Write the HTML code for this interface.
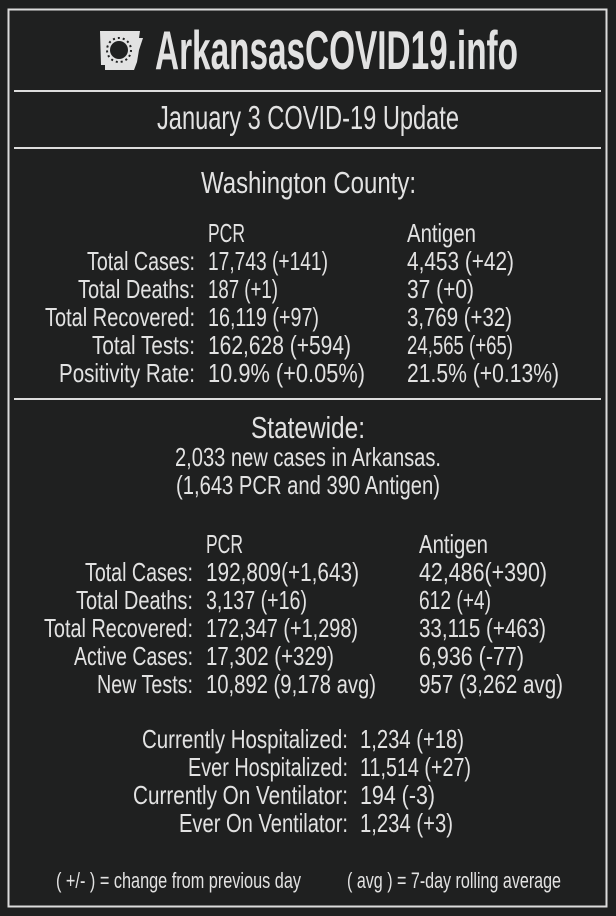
<!DOCTYPE html>
<html><head><meta charset="utf-8"><style>
html,body{margin:0;padding:0;background:#1f2020;}
svg{display:block}
text{font-family:"Liberation Sans Narrow","Liberation Sans",sans-serif;fill:#e2e2e2;}
</style></head><body>
<svg width="616" height="916" viewBox="0 0 616 916">
<rect x="0" y="0" width="616" height="916" fill="#1f2020"/>
<rect x="8.5" y="9.5" width="598" height="897" fill="none" stroke="#dcdcdc" stroke-width="2"/>
<line x1="14" y1="91" x2="601" y2="91" stroke="#dcdcdc" stroke-width="2"/>
<line x1="14" y1="148" x2="601" y2="148" stroke="#dcdcdc" stroke-width="2"/>
<line x1="14" y1="399" x2="601" y2="399" stroke="#dcdcdc" stroke-width="2"/>

<g>
<path d="M100 31 L140 31 L139 38 L143 38 L139 50 L137 62 L134 70 L105 70 L105 65 L101 65 Z" fill="#e2e2e2"/>
<circle cx="119" cy="50" r="9" fill="#1f2020"/>
<circle cx="119" cy="50" r="12" fill="none" stroke="#1f2020" stroke-width="2" stroke-dasharray="2 3"/>
</g>
<text x="155" y="69" font-size="55" font-weight="bold" textLength="363" lengthAdjust="spacingAndGlyphs">ArkansasCOVID19.info</text>
<text x="157" y="129" font-size="33" textLength="302" lengthAdjust="spacingAndGlyphs">January 3 COVID-19 Update</text>

<text x="201" y="193" font-size="31" textLength="215" lengthAdjust="spacingAndGlyphs">Washington County:</text>
<g font-size="26">
<text x="208" y="242" textLength="37" lengthAdjust="spacingAndGlyphs">PCR</text>
<text x="407" y="242" textLength="69" lengthAdjust="spacingAndGlyphs">Antigen</text>
<g text-anchor="end">
<text x="195" y="270" textLength="108" lengthAdjust="spacingAndGlyphs">Total Cases:</text>
<text x="195" y="298" textLength="117" lengthAdjust="spacingAndGlyphs">Total Deaths:</text>
<text x="195" y="326" textLength="150" lengthAdjust="spacingAndGlyphs">Total Recovered:</text>
<text x="195" y="354" textLength="103" lengthAdjust="spacingAndGlyphs">Total Tests:</text>
<text x="195" y="382" textLength="136" lengthAdjust="spacingAndGlyphs">Positivity Rate:</text>
</g>
<text x="208" y="270" textLength="120" lengthAdjust="spacingAndGlyphs">17,743 (+141)</text>
<text x="208" y="298" textLength="70" lengthAdjust="spacingAndGlyphs">187 (+1)</text>
<text x="208" y="326" textLength="111" lengthAdjust="spacingAndGlyphs">16,119 (+97)</text>
<text x="208" y="354" textLength="143" lengthAdjust="spacingAndGlyphs">162,628 (+594)</text>
<text x="208" y="382" textLength="157" lengthAdjust="spacingAndGlyphs">10.9% (+0.05%)</text>
<text x="407" y="270" textLength="107" lengthAdjust="spacingAndGlyphs">4,453 (+42)</text>
<text x="407" y="298" textLength="67" lengthAdjust="spacingAndGlyphs">37 (+0)</text>
<text x="407" y="326" textLength="105" lengthAdjust="spacingAndGlyphs">3,769 (+32)</text>
<text x="407" y="354" textLength="106" lengthAdjust="spacingAndGlyphs">24,565 (+65)</text>
<text x="407" y="382" textLength="152" lengthAdjust="spacingAndGlyphs">21.5% (+0.13%)</text>
</g>

<text x="251" y="438" font-size="31" textLength="114" lengthAdjust="spacingAndGlyphs">Statewide:</text>
<text x="175" y="466" font-size="26" textLength="266" lengthAdjust="spacingAndGlyphs">2,033 new cases in Arkansas.</text>
<text x="176" y="494" font-size="26" textLength="264" lengthAdjust="spacingAndGlyphs">(1,643 PCR and 390 Antigen)</text>

<g font-size="26">
<text x="206" y="553" textLength="37" lengthAdjust="spacingAndGlyphs">PCR</text>
<text x="419" y="553" textLength="69" lengthAdjust="spacingAndGlyphs">Antigen</text>
<g text-anchor="end">
<text x="193" y="581" textLength="108" lengthAdjust="spacingAndGlyphs">Total Cases:</text>
<text x="193" y="609" textLength="117" lengthAdjust="spacingAndGlyphs">Total Deaths:</text>
<text x="193" y="637" textLength="149" lengthAdjust="spacingAndGlyphs">Total Recovered:</text>
<text x="193" y="665" textLength="119" lengthAdjust="spacingAndGlyphs">Active Cases:</text>
<text x="193" y="693" textLength="96" lengthAdjust="spacingAndGlyphs">New Tests:</text>
</g>
<text x="206" y="581" textLength="153" lengthAdjust="spacingAndGlyphs">192,809(+1,643)</text>
<text x="206" y="609" textLength="101" lengthAdjust="spacingAndGlyphs">3,137 (+16)</text>
<text x="206" y="637" textLength="152" lengthAdjust="spacingAndGlyphs">172,347 (+1,298)</text>
<text x="206" y="665" textLength="128" lengthAdjust="spacingAndGlyphs">17,302 (+329)</text>
<text x="206" y="693" textLength="170" lengthAdjust="spacingAndGlyphs">10,892 (9,178 avg)</text>
<text x="419" y="581" textLength="128" lengthAdjust="spacingAndGlyphs">42,486(+390)</text>
<text x="419" y="609" textLength="72" lengthAdjust="spacingAndGlyphs">612 (+4)</text>
<text x="419" y="637" textLength="127" lengthAdjust="spacingAndGlyphs">33,115 (+463)</text>
<text x="419" y="665" textLength="105" lengthAdjust="spacingAndGlyphs">6,936 (-77)</text>
<text x="419" y="693" textLength="144" lengthAdjust="spacingAndGlyphs">957 (3,262 avg)</text>
</g>

<g font-size="26">
<g text-anchor="end">
<text x="348" y="748" textLength="206" lengthAdjust="spacingAndGlyphs">Currently Hospitalized:</text>
<text x="348" y="776" textLength="160" lengthAdjust="spacingAndGlyphs">Ever Hospitalized:</text>
<text x="348" y="804" textLength="215" lengthAdjust="spacingAndGlyphs">Currently On Ventilator:</text>
<text x="348" y="832" textLength="169" lengthAdjust="spacingAndGlyphs">Ever On Ventilator:</text>
</g>
<text x="360" y="748" textLength="104" lengthAdjust="spacingAndGlyphs">1,234 (+18)</text>
<text x="360" y="776" textLength="111" lengthAdjust="spacingAndGlyphs">11,514 (+27)</text>
<text x="360" y="804" textLength="75" lengthAdjust="spacingAndGlyphs">194 (-3)</text>
<text x="360" y="832" textLength="93" lengthAdjust="spacingAndGlyphs">1,234 (+3)</text>
</g>

<text x="56" y="888" font-size="22" textLength="245" lengthAdjust="spacingAndGlyphs">( +/- ) = change from previous day</text>
<text x="347" y="888" font-size="22" textLength="214" lengthAdjust="spacingAndGlyphs">( avg ) = 7-day rolling average</text>
</svg>
</body></html>
